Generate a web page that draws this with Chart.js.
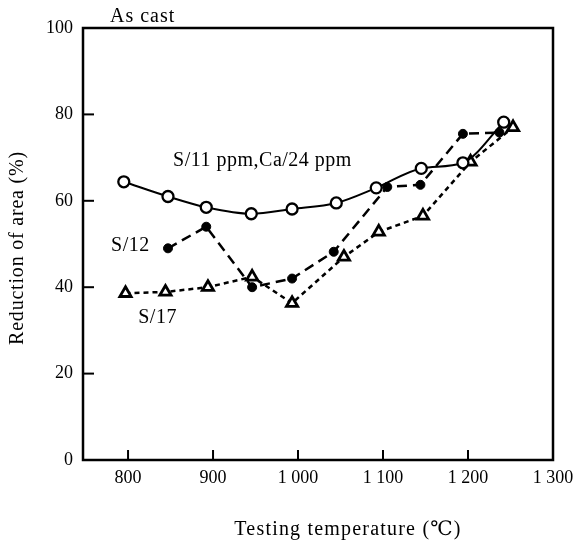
<!DOCTYPE html>
<html>
<head>
<meta charset="utf-8">
<script src="https://cdn.jsdelivr.net/npm/chart.js@4.4.0/dist/chart.umd.min.js"></script>
<style>
html,body{margin:0;padding:0;background:#fff;}
#wrap{width:581px;height:545px;position:relative;}
</style>
</head>
<body>
<div id="wrap"><canvas id="c" width="581" height="545"></canvas></div>
<script>
// ---- data ----
const xTicks = [800, 900, 1000, 1100, 1200, 1300];
const yTicks = [0, 20, 40, 60, 80, 100];

const tempS11 = [795, 847, 892, 945, 993, 1045, 1092, 1145, 1194, 1242];
const raS11   = [64.4, 61.0, 58.5, 57.0, 58.1, 59.5, 63.0, 67.5, 68.8, 78.2];

const tempS12 = [847, 892, 946, 993, 1042, 1105, 1144, 1194, 1237];
const raS12   = [49.0, 54.0, 40.0, 42.0, 48.2, 63.2, 63.7, 75.5, 75.8];

const tempS17 = [797, 844, 894, 946, 993, 1054, 1095, 1147, 1203, 1253];
const raS17   = [38.6, 38.9, 40.0, 42.4, 36.3, 47.0, 52.8, 56.5, 69.0, 77.0];

const seriesLabels = ['S/11 ppm,Ca/24 ppm', 'S/12', 'S/17'];
const xTitle = 'Testing temperature (\u2103)';
const yTitle = 'Reduction of area (%)';
const panelTitle = 'As cast';

const toXY = (xs, ys) => xs.map((x, i) => ({x: x, y: ys[i]}));
const FONT = "'Liberation Serif', 'DejaVu Serif', serif";

const fmt = v => v >= 1000 ? String(v).replace(/^(\d)(\d{3})$/, '$1 $2') : String(v);

const framePlugin = {
  id: 'frame',
  afterDraw(chart) {
    const ctx = chart.ctx;
    const a = chart.chartArea;
    const xs = chart.scales.x, ys = chart.scales.y;
    ctx.save();
    ctx.strokeStyle = '#000';
    ctx.lineWidth = 2.5;
    ctx.strokeRect(a.left, a.top, a.right - a.left, a.bottom - a.top);
    ctx.lineWidth = 2;
    // inward ticks
    yTicks.forEach(v => {
      const py = ys.getPixelForValue(v);
      ctx.beginPath(); ctx.moveTo(a.left, py); ctx.lineTo(a.left + 11, py); ctx.stroke();
    });
    xTicks.forEach(v => {
      const px = xs.getPixelForValue(v);
      ctx.beginPath(); ctx.moveTo(px, a.bottom); ctx.lineTo(px, a.bottom - 10); ctx.stroke();
    });
    // texts
    ctx.fillStyle = '#000';
    ctx.textBaseline = 'middle';
    ctx.textAlign = 'left';
    ctx.font = '20px ' + FONT;
    ctx.letterSpacing = '1px';
    ctx.fillText(panelTitle, 110, 17);
    ctx.letterSpacing = '0.5px';
    ctx.fillText(seriesLabels[0], xs.getPixelForValue(853), ys.getPixelForValue(69.3));
    ctx.fillText(seriesLabels[1], xs.getPixelForValue(780), ys.getPixelForValue(49.5));
    ctx.fillText(seriesLabels[2], xs.getPixelForValue(812), ys.getPixelForValue(33.0));
    ctx.textAlign = 'center';
    ctx.letterSpacing = '1.2px';
    ctx.fillText(xTitle, 348, 530);
    ctx.letterSpacing = '0.8px';
    ctx.translate(18, (a.top + a.bottom) / 2 + 4);
    ctx.rotate(-Math.PI / 2);
    ctx.fillText(yTitle, 0, 0);
    ctx.restore();
  }
};

new Chart(document.getElementById('c'), {
  type: 'line',
  data: {
    datasets: [
      {
        label: seriesLabels[0],
        data: toXY(tempS11, raS11),
        borderColor: '#000', borderWidth: 2,
        tension: 0.4, cubicInterpolationMode: 'monotone',
        pointStyle: 'circle', pointRadius: 5.5, pointBorderWidth: 2.3,
        pointBackgroundColor: '#fff', pointBorderColor: '#000'
      },
      {
        label: seriesLabels[1],
        data: toXY(tempS12, raS12),
        borderColor: '#000', borderWidth: 2.5, borderDash: [10, 6],
        tension: 0,
        pointStyle: 'circle', pointRadius: 4.5, pointBorderWidth: 1,
        pointBackgroundColor: '#000', pointBorderColor: '#000'
      },
      {
        label: seriesLabels[2],
        data: toXY(tempS17, raS17),
        borderColor: '#000', borderWidth: 2.5, borderDash: [5, 4],
        tension: 0,
        pointStyle: 'triangle', pointRadius: 6.5, pointBorderWidth: 2.8,
        pointBackgroundColor: '#fff', pointBorderColor: '#000'
      }
    ]
  },
  options: {
    responsive: false,
    animation: false,
    layout: {padding: {left: 0, right: 28, top: 28, bottom: 0}},
    plugins: {legend: {display: false}, tooltip: {enabled: false}},
    scales: {
      x: {
        type: 'linear', min: 747, max: 1300,
        afterBuildTicks: s => { s.ticks = xTicks.map(v => ({value: v})); },
        afterFit: s => { s.height = 85; },
        grid: {display: false, drawTicks: false},
        border: {display: false},
        ticks: {color: '#000', font: {family: FONT, size: 18}, padding: 7, maxRotation: 0, autoSkip: false,
                callback: v => fmt(v)}
      },
      y: {
        type: 'linear', min: 0, max: 100,
        afterBuildTicks: s => { s.ticks = yTicks.map(v => ({value: v})); },
        afterFit: s => { s.width = 83; },
        grid: {display: false, drawTicks: false},
        border: {display: false},
        ticks: {color: '#000', font: {family: FONT, size: 18}, padding: 10, callback: v => String(v)}
      }
    }
  },
  plugins: [framePlugin]
});
</script>
</body>
</html>
